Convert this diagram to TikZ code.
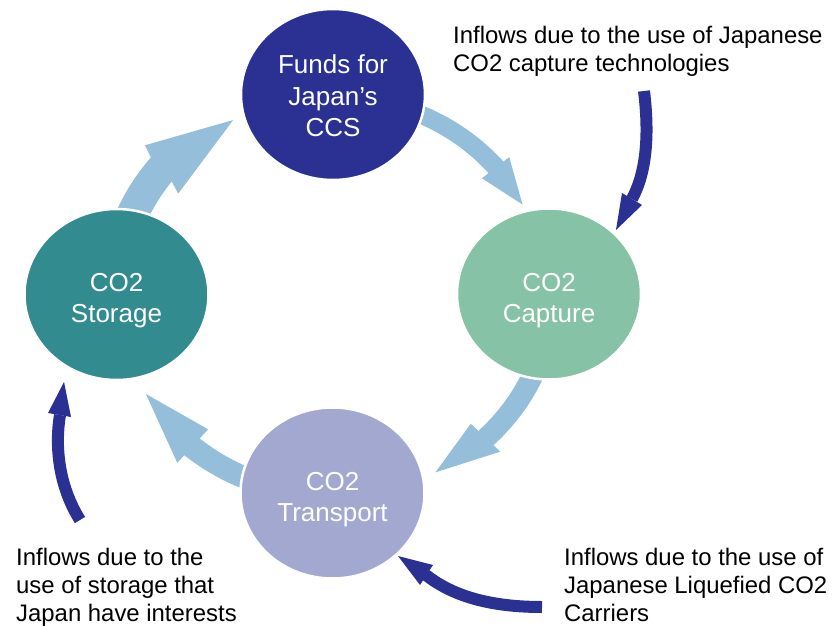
\documentclass[tikz,border=0pt]{standalone}
\usepackage{fontspec}
\setmainfont{Liberation Sans}
\usetikzlibrary{shapes.geometric}

\definecolor{navy}{HTML}{2A3192}
\definecolor{mint}{HTML}{86C2A6}
\definecolor{lavender}{HTML}{A3A8D0}
\definecolor{deepteal}{HTML}{328B8F}
\definecolor{flowblue}{HTML}{94BED9}

\begin{document}
\begin{tikzpicture}[x=1pt,y=-1pt,
  stage/.style={ellipse, minimum width=184pt, minimum height=171pt, inner sep=0pt,
    draw=white, line width=2.5pt},
  stagetext/.style={text=white, align=center, inner sep=0pt,
    font=\fontsize{26}{31.5}\selectfont},
  cycleflow/.style={fill=flowblue},
  inflow/.style={draw=navy, line width=12pt},
  inhead/.style={fill=navy},
  note/.style={anchor=north west, align=left, inner sep=0pt, text=black,
    font=\fontsize{23.9}{28}\selectfont}]
\useasboundingbox (0,0) rectangle (833,626);

% curved block arrows of the cycle, laid on a slightly wide ring
\begin{scope}[shift={(333,294)}, xscale=1.08]
  % funds -> capture
  \fill[cycleflow] (-75:206) arc[start angle=-75, end angle=-40, radius=206]
    -- (-40:213) -- (-27:197) -- (-40:180) -- (-40:188)
    arc[start angle=-40, end angle=-75, radius=188] -- cycle;
  % capture -> transport
  \fill[cycleflow] (10:212) arc[start angle=10, end angle=45.5, radius=212]
    -- (45.5:221) -- (62:202) -- (45.5:182) -- (45.5:192)
    arc[start angle=45.5, end angle=10, radius=192] -- cycle;
  % transport -> storage
  \fill[cycleflow] (100:212) arc[start angle=100, end angle=130.5, radius=212]
    -- (130.5:222) -- (150:200) -- (130.5:178) -- (130.5:190)
    arc[start angle=130.5, end angle=100, radius=190] -- cycle;
  % storage -> funds
  \fill[cycleflow] (-170:217) arc[start angle=-170, end angle=-141, radius=217]
    -- (-139.5:229) -- (-118:197) -- (-145:175) -- (-143:187)
    arc[start angle=-143, end angle=-170, radius=187] -- cycle;
\end{scope}

% the four stages
\node[stage, fill=navy]      (funds)     at (333,94.5)   {};
\node[stage, fill=mint]      (capture)   at (549,294)    {};
\node[stage, fill=lavender]  (transport) at (332.5,493)  {};
\node[stage, fill=deepteal]  (storage)   at (116.5,294.5){};

\node[stagetext] (fundsText)     at ([yshift=-1.5pt]funds.center)   {Funds for\\Japan’s\\CCS};
\node[stagetext] (captureText)   at ([yshift=-6.5pt]capture.center)   {CO2\\Capture};
\node[stagetext] (transportText) at ([yshift=-6.5pt]transport.center) {CO2\\Transport};
\node[stagetext] (storageText)   at ([yshift=-6pt]storage.center)     {CO2\\Storage};

% notes on the inflows
\node[note] (noteCapture) at (453,26)  {Inflows due to the use of Japanese\\CO2 capture technologies};
\node[note] (noteStorage) at (16,548)  {Inflows due to the\\use of storage that\\Japan have interests};
\node[note] (noteCarrier) at (564,548) {Inflows due to the use of\\Japanese Liquefied CO2\\Carriers};

% inflow into capture
\coordinate (aTail) at (644,91);
\coordinate (aBase) at (632,199);
\coordinate (aTip)  at (616,230);
\coordinate (aL)    at (622,193);
\coordinate (aR)    at (642,205);
\draw[inflow] (aTail) .. controls (650,140) and (645,175) .. (aBase);
\fill[inhead] (aL) -- (aTip) -- (aR) -- cycle;

% inflow into transport
\coordinate (bTail) at (542,607);
\coordinate (bBase) at (426,575);
\coordinate (bTip)  at (398,556);
\coordinate (bL)    at (433,565);
\coordinate (bR)    at (420,585);
\draw[inflow] (bTail) .. controls (495,607) and (455,598) .. (bBase);
\fill[inhead] (bL) -- (bTip) -- (bR) -- cycle;

% inflow into storage
\coordinate (cTail) at (80,520);
\coordinate (cBase) at (60,415);
\coordinate (cTip)  at (64,382);
\coordinate (cL)    at (48,413);
\coordinate (cR)    at (71,417);
\draw[inflow] (cTail) .. controls (58,485) and (55,445) .. (cBase);
\fill[inhead] (cL) -- (cTip) -- (cR) -- cycle;
\end{tikzpicture}
\end{document}
